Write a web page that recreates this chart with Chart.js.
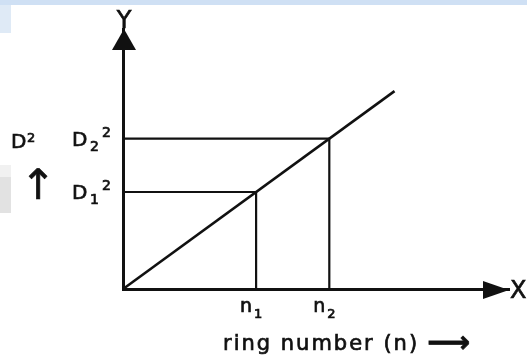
<!DOCTYPE html>
<html>
<head>
<meta charset="utf-8">
<script src="https://cdn.jsdelivr.net/npm/chart.js@4.4.0/dist/chart.umd.min.js"></script>
<style>
  html, body { margin: 0; padding: 0; background: #fff; }
  #wrap { width: 527px; height: 360px; }
</style>
</head>
<body>
<div id="wrap"><canvas id="rings"></canvas></div>
<script>
// values (arbitrary units)
const ringNumbers = [5, 7.75]
const diaSquared = [5, 7.75]
const ringSubs = ['1', '2']
const fitN = [0, 10.2]
const fitD = [0, 10.2]
const xMax = 14.5
const yMax = 13.4

const FONT = 'DejaVu Sans'
const INK = '#111'

const dropLines = ringNumbers.map((n, i) => ({
  data: [{x: 0, y: diaSquared[i]}, {x: n, y: diaSquared[i]}, {x: n, y: 0}],
  borderColor: INK,
  borderWidth: 2.2,
  pointRadius: 0,
  showLine: true
}))

// scanned text is a bit heavier than the plain font, so stroke it lightly too
function ink(c, txt, x, y) {
  c.fillText(txt, x, y)
  c.strokeText(txt, x, y)
}

const sketch = {
  id: 'sketch',
  beforeDraw(chart) {
    const c = chart.ctx
    c.save()
    c.fillStyle = '#fff'
    c.fillRect(0, 0, chart.width, chart.height)
    // scan leftovers
    c.fillStyle = '#cfe0f4'
    c.fillRect(0, 0, chart.width, 5)
    c.fillStyle = '#dfeaf6'
    c.fillRect(0, 5, 11, 28)
    c.fillStyle = '#f1f1f1'
    c.fillRect(0, 165, 11, 12)
    c.fillStyle = '#e2e2e2'
    c.fillRect(0, 177, 11, 36)
    c.restore()
  },
  afterDraw(chart) {
    const c = chart.ctx
    const a = chart.chartArea
    const xs = chart.scales.x, ys = chart.scales.y
    c.save()
    c.fillStyle = INK
    c.strokeStyle = INK
    c.lineWidth = 0.7

    // arrow heads
    c.beginPath()
    c.moveTo(a.left + 1, a.top)
    c.lineTo(a.left - 11, a.top + 21)
    c.lineTo(a.left + 13, a.top + 21)
    c.closePath()
    c.fill()
    c.beginPath()
    c.moveTo(a.right, a.bottom + 1)
    c.lineTo(a.right - 26, a.bottom - 8)
    c.lineTo(a.right - 26, a.bottom + 10)
    c.closePath()
    c.fill()

    c.textBaseline = 'alphabetic'
    c.textAlign = 'center'
    c.font = '24px ' + FONT
    ink(c, 'Y', a.left + 1, a.top - 1)
    c.textAlign = 'left'
    ink(c, 'X', a.right + 1, a.bottom + 9)

    // y side labels
    c.font = '20px ' + FONT
    ink(c, 'D', 11, 148)
    c.font = '13px ' + FONT
    ink(c, '2', 27, 142)
    c.textAlign = 'center'
    c.font = '42px ' + FONT
    ink(c, '↑', 38, 199)

    diaSquared.forEach((d, i) => {
      const py = ys.getPixelForValue(d)
      c.textAlign = 'left'
      c.font = '20px ' + FONT
      ink(c, 'D', 72, py + 7)
      c.font = '14px ' + FONT
      ink(c, ringSubs[i], 90, py + 12)
      ink(c, '2', 102, py - 2)
    })

    ringNumbers.forEach((n, i) => {
      const px = xs.getPixelForValue(n)
      c.font = '19px ' + FONT
      c.textAlign = 'right'
      ink(c, 'n', px - 4, a.bottom + 23)
      c.textAlign = 'left'
      c.font = '13px ' + FONT
      ink(c, ringSubs[i], px - 2, a.bottom + 29)
    })

    c.font = '21px ' + FONT
    c.letterSpacing = '2px'
    ink(c, 'ring number (n)', 223, 350)
    c.letterSpacing = '0px'
    c.font = 'bold 30px ' + FONT
    ink(c, '⟶', 427, 352)
    c.restore()
  }
}

new Chart(document.getElementById('rings'), {
  type: 'scatter',
  data: {
    datasets: [{
      data: fitN.map((n, i) => ({x: n, y: fitD[i]})),
      borderColor: INK,
      borderWidth: 2.6,
      pointRadius: 0,
      showLine: true
    }, ...dropLines]
  },
  options: {
    responsive: true,
    maintainAspectRatio: false,
    animation: false,
    layout: { padding: { left: 123, right: 18, top: 29, bottom: 71 } },
    plugins: { legend: { display: false }, tooltip: { enabled: false } },
    scales: {
      x: {
        min: 0, max: xMax,
        grid: { display: false, drawTicks: false },
        ticks: { display: false },
        border: { display: true, color: INK, width: 3 }
      },
      y: {
        min: 0, max: yMax,
        grid: { display: false, drawTicks: false },
        ticks: { display: false },
        border: { display: true, color: INK, width: 3 }
      }
    }
  },
  plugins: [sketch]
});
</script>
</body>
</html>
